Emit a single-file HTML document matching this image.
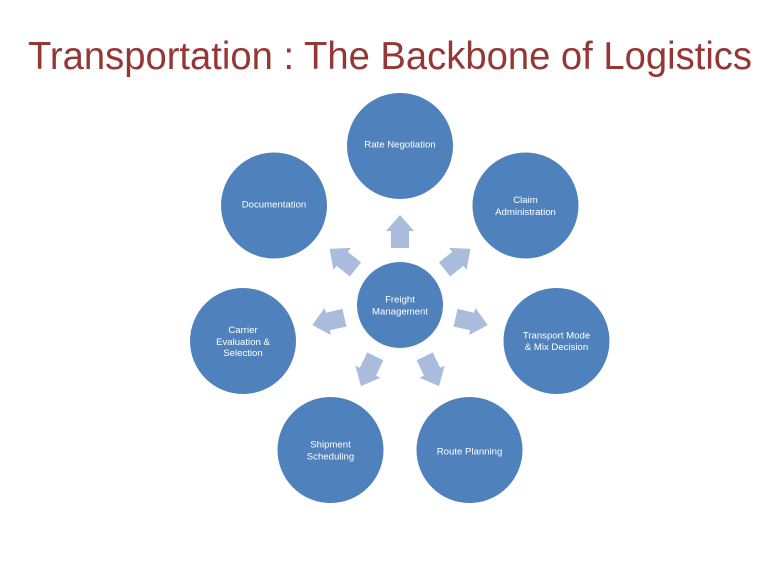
<!DOCTYPE html>
<html>
<head>
<meta charset="utf-8">
<style>
  html, body { margin:0; padding:0; background:#ffffff; }
  body { width:768px; height:576px; overflow:hidden; }
  svg { display:block; }
  text { font-family: "Liberation Sans", sans-serif; }
</style>
</head>
<body>
<svg width="768" height="576" viewBox="0 0 768 576" xmlns="http://www.w3.org/2000/svg">
  <rect width="768" height="576" fill="#ffffff"/>
  <text x="28" y="69" font-size="39" fill="#953735" textLength="724" lengthAdjust="spacingAndGlyphs">Transportation : The Backbone of Logistics</text>

  <!-- arrows -->
  <g fill="#A9BCDC">
    <polygon points="0,-90 14,-74 9,-74 9,-57 -9,-57 -9,-74 -14,-74" transform="translate(400,305) rotate(0)"/>
    <polygon points="0,-90 14,-74 9,-74 9,-57 -9,-57 -9,-74 -14,-74" transform="translate(400,305) rotate(51.4286)"/>
    <polygon points="0,-90 14,-74 9,-74 9,-57 -9,-57 -9,-74 -14,-74" transform="translate(400,305) rotate(102.857)"/>
    <polygon points="0,-90 14,-74 9,-74 9,-57 -9,-57 -9,-74 -14,-74" transform="translate(400,305) rotate(154.286)"/>
    <polygon points="0,-90 14,-74 9,-74 9,-57 -9,-57 -9,-74 -14,-74" transform="translate(400,305) rotate(205.714)"/>
    <polygon points="0,-90 14,-74 9,-74 9,-57 -9,-57 -9,-74 -14,-74" transform="translate(400,305) rotate(257.143)"/>
    <polygon points="0,-90 14,-74 9,-74 9,-57 -9,-57 -9,-74 -14,-74" transform="translate(400,305) rotate(308.571)"/>
  </g>

  <!-- circles -->
  <g fill="#4F81BD">
    <circle cx="400" cy="305" r="43"/>
    <circle cx="400" cy="146" r="53"/>
    <circle cx="525.5" cy="205.5" r="53"/>
    <circle cx="556.5" cy="341" r="53"/>
    <circle cx="469.5" cy="450" r="53"/>
    <circle cx="330.5" cy="450" r="53"/>
    <circle cx="243" cy="341" r="53"/>
    <circle cx="274" cy="205.5" r="53"/>
  </g>

  <!-- labels -->
  <g fill="#ffffff" font-size="9.6" text-anchor="middle">
    <text x="400" y="302.5">Freight</text>
    <text x="400" y="314.5">Management</text>

    <text x="400" y="147.5">Rate Negotiation</text>

    <text x="525.5" y="203">Claim</text>
    <text x="525.5" y="215">Administration</text>

    <text x="556.5" y="338.5">Transport Mode</text>
    <text x="556.5" y="350">&amp; Mix Decision</text>

    <text x="469.5" y="454.5">Route Planning</text>

    <text x="330.5" y="447.5">Shipment</text>
    <text x="330.5" y="459.5">Scheduling</text>

    <text x="243" y="333">Carrier</text>
    <text x="243" y="345">Evaluation &amp;</text>
    <text x="243" y="356">Selection</text>

    <text x="274" y="207.5">Documentation</text>
  </g>
</svg>
</body>
</html>
